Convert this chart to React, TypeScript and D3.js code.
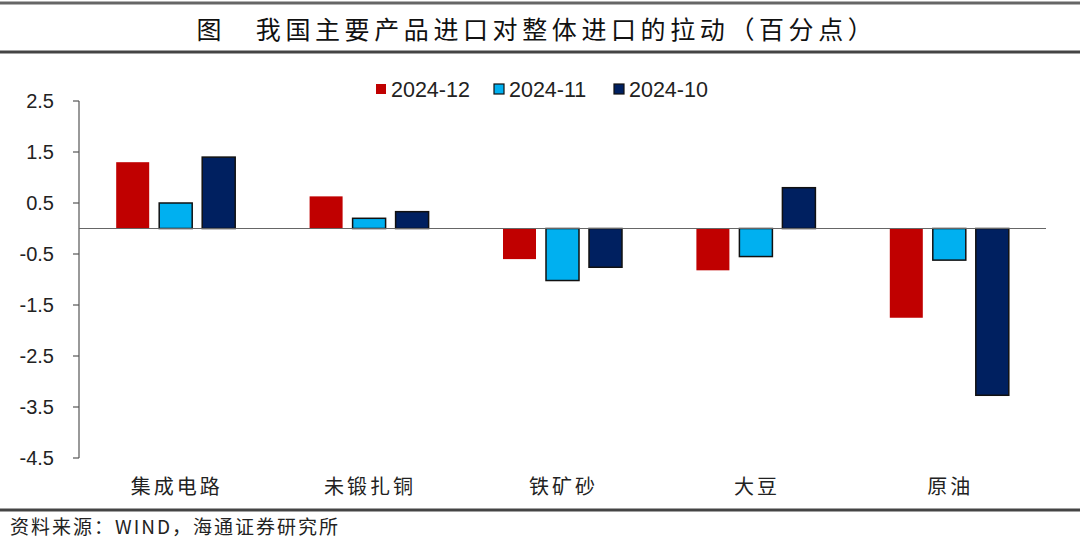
import React from 'react';
import * as d3 from 'd3';

const categories = ['集成电路', '未锻扎铜', '铁矿砂', '大豆', '原油'];
const seriesNames = ['2024-12', '2024-11', '2024-10'];
const dec = [1.3, 0.63, -0.6, -0.82, -1.75];
const nov = [0.5, 0.2, -1.02, -0.55, -0.62];
const oct = [1.4, 0.33, -0.76, 0.8, -3.27];
const yTicks = [2.5, 1.5, 0.5, -0.5, -1.5, -2.5, -3.5, -4.5];

const colors = ['#C00000', '#00B0F0', '#002060'];
const seriesValues = [dec, nov, oct];

const W = 1080;
const H = 545;
const left = 79;
const right = 1046;
const top = 101;
const bottom = 458;

const App: React.FC = () => {
  const y = d3.scaleLinear().domain([-4.5, 2.5]).range([bottom, top]);
  const x0 = d3.scaleBand<string>().domain(categories).range([left, right]);
  const step = 43;
  const barW = 33;
  const cjk = '"Noto Sans CJK SC", sans-serif';
  const latin = '"Liberation Sans", Arial, sans-serif';

  return (
    <svg width={W} height={H} style={{ position: 'absolute', left: 0, top: 0, background: '#fff' }}>
      <line x1={0} x2={W} y1={3} y2={3} stroke="#666" strokeWidth={3} />
      <text x={537} y={39} textAnchor="middle" fontFamily={cjk} fontSize={25} letterSpacing={4.6} fill="#111">
        图　我国主要产品进口对整体进口的拉动（百分点）
      </text>
      <line x1={0} x2={W} y1={52} y2={52} stroke="#444" strokeWidth={3} />

      {/* legend */}
      {seriesNames.map((n, i) => {
        const lx = [376, 494, 614][i];
        return (
          <g key={n}>
            <rect x={lx} y={84} width={10} height={10} fill={colors[i]}
              stroke={i === 0 ? 'none' : '#111'} strokeWidth={1.2} />
            <text x={lx + 15} y={97} fontFamily={latin} fontSize={21.5} fill="#222">{n}</text>
          </g>
        );
      })}

      {/* y axis */}
      <line x1={left} x2={left} y1={top} y2={bottom} stroke="#555" strokeWidth={1.2} />
      {yTicks.map(t => (
        <g key={t}>
          <line x1={left - 6} x2={left} y1={y(t)} y2={y(t)} stroke="#555" strokeWidth={1.2} />
          <text x={54} y={y(t) + 7} textAnchor="end" fontFamily={latin} fontSize={20} fill="#222">
            {t.toFixed(1)}
          </text>
        </g>
      ))}

      {/* bars */}
      {categories.map((c, ci) => {
        const cx = (x0(c) || 0) + x0.bandwidth() / 2;
        return (
          <g key={c}>
            {seriesValues.map((vals, si) => {
              const v = vals[ci];
              const bx = cx + (si - 1) * step - barW / 2;
              const y1 = Math.min(y(v), y(0));
              const h = Math.abs(y(v) - y(0));
              return (
                <rect key={si} x={bx} y={y1} width={barW} height={h} fill={colors[si]}
                  stroke={si === 0 ? 'none' : '#111'} strokeWidth={1.5} />
              );
            })}
            <text x={cx + 1} y={494} textAnchor="middle" fontFamily={cjk} fontSize={20} letterSpacing={3} fill="#222">{c}</text>
          </g>
        );
      })}

      <line x1={left} x2={right} y1={y(0)} y2={y(0)} stroke="#666" strokeWidth={1.2} />

      <line x1={0} x2={W} y1={510} y2={510} stroke="#444" strokeWidth={3} />
      <text x={10} y={534} fontFamily={cjk} fontSize={19} letterSpacing={2} fill="#222">资料来源：WIND，海通证券研究所</text>
    </svg>
  );
};

export default App;
